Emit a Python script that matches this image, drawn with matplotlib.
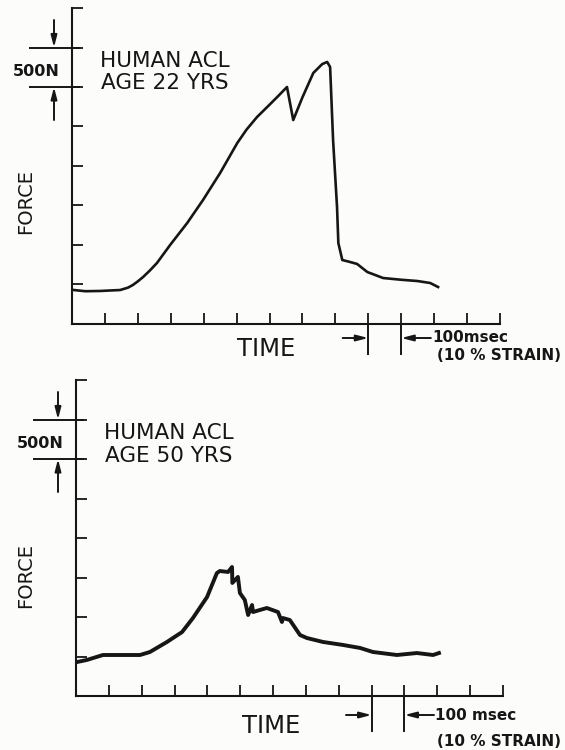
import matplotlib
matplotlib.use("Agg")
import matplotlib.pyplot as plt

# ---- data (time in msec, force in N) ----
top_t = [6, 40, 85, 120, 146, 170, 185, 200, 216, 236, 258, 298, 350, 398, 450, 502, 530, 562,
         593, 625, 653, 672, 700, 733, 760, 775, 784, 793, 805, 809, 821, 840, 866, 897, 945,
         1000, 1049, 1088, 1112]
top_f = [430, 415, 418, 425, 430, 460, 494, 540, 595, 675, 772, 1000, 1279, 1570, 1912, 2291,
         2460, 2620, 2747, 2880, 3000, 2582, 2870, 3178, 3290, 3317, 3253, 2329, 1481, 1025,
         810, 790, 760, 658, 582, 560, 544, 519, 468]

bot_t = [3, 33, 82, 195, 225, 277, 323, 356, 399, 429, 438, 463, 475, 476, 493, 499,
         514, 524, 536, 539, 560, 581, 615, 627, 630, 651, 682, 703, 752, 813, 865,
         904, 977, 1038, 1087, 1105]
bot_f = [430, 456, 519, 519, 557, 684, 810, 987, 1253, 1557, 1582, 1570, 1633, 1431, 1507, 1304,
         1215, 1025, 1152, 1063, 1089, 1114, 1063, 937, 987, 962, 772, 734, 684, 646, 608,
         557, 519, 544, 519, 544]

panel_titles = [["HUMAN ACL", "AGE 22 YRS"], ["HUMAN ACL", "AGE 50 YRS"]]
force_ticks = [500, 1000, 1500, 2000, 2500, 3000, 3500, 4000]
time_ticks = [100, 200, 300, 400, 500, 600, 700, 800, 900, 1000, 1100, 1200, 1300]
scale_force = [3000, 3500]   # 500 N marker
scale_time = [900, 1000]     # 100 msec marker

INK = "#161616"
BG = "#fcfcfa"
W, H = 565, 750

fig = plt.figure(figsize=(W / 100, H / 100), dpi=100, facecolor=BG)
plt.rcParams["font.family"] = ["DejaVu Sans"]


def fx(px):
    return px / W


def fy(py):
    return 1 - py / H


ARROW = dict(arrowstyle="-|>,head_length=0.7,head_width=0.18", color=INK, lw=1.4,
             shrinkA=0, shrinkB=0)


def panel(left, right, top, bottom, t, f, lw, tp):
    ax = fig.add_axes([fx(left), fy(bottom), fx(right - left), (bottom - top) / H])
    ax.set_facecolor(BG)
    ax.plot(t, f, color=INK, lw=lw, solid_joinstyle="round")
    ax.set_xlim(0, 1300)
    ax.set_ylim(0, 4000)
    for s in ["top", "right"]:
        ax.spines[s].set_visible(False)
    for s in ["left", "bottom"]:
        ax.spines[s].set_linewidth(1.5)
        ax.spines[s].set_color(INK)
    ax.set_xticks(time_ticks)
    ax.set_yticks(force_ticks)
    ax.set_xticklabels([])
    ax.set_yticklabels([])
    ax.tick_params(direction="in", length=8, width=1.3, color=INK)
    axw = right - left
    axh = bottom - top
    ytr = ax.get_yaxis_transform()
    xtr = ax.get_xaxis_transform()
    # 500 N scale lines
    for v in scale_force:
        ax.plot([-43 / axw, 8 / axw], [v, v], transform=ytr, color=INK, lw=1.4,
                clip_on=False, solid_capstyle="butt")
    ax_x = -18 / axw
    ax.annotate("", xy=(ax_x, scale_force[1]), xytext=(ax_x, 3848), xycoords=ytr,
                textcoords=ytr, arrowprops=ARROW)
    ax.annotate("", xy=(ax_x, scale_force[0]), xytext=(ax_x, 2582), xycoords=ytr,
                textcoords=ytr, arrowprops=ARROW)
    # 100 msec scale lines
    down = tp["down"] / axh
    for v in scale_time:
        ax.plot([v, v], [0, -down], transform=xtr, color=INK, lw=1.4, clip_on=False,
                solid_capstyle="butt")
    ay = -tp["arrow"] / axh
    ax.annotate("", xy=(scale_time[0], ay), xytext=(822, ay), xycoords=xtr, textcoords=xtr,
                arrowprops=ARROW)
    ax.annotate("", xy=(scale_time[1], ay), xytext=(1090, ay), xycoords=xtr, textcoords=xtr,
                arrowprops=ARROW)
    return ax


# top panel
panel(72, 500, 8, 324, top_t, top_f, 1.9, dict(down=31, arrow=14))
# bottom panel
panel(76, 503, 380, 696, bot_t, bot_f, 2.8, dict(down=36, arrow=19))

txt = dict(color=INK)
small = dict(color=INK, fontweight="bold")
# top texts
fig.text(fx(100), fy(67), panel_titles[0][0], fontsize=15.5, ha="left", va="baseline", **txt)
fig.text(fx(101), fy(89), panel_titles[0][1], fontsize=15.5, ha="left", va="baseline", **txt)
fig.text(fx(36), fy(71), "500N", fontsize=11.5, ha="center", va="center", **small)
fig.text(fx(26), fy(201), "FORCE", fontsize=14, rotation=90, ha="center", va="center", **txt)
fig.text(fx(266), fy(349), "TIME", fontsize=17.5, ha="center", va="center", **txt)
fig.text(fx(432), fy(337), "100msec", fontsize=11, ha="left", va="center", **small)
fig.text(fx(499), fy(356), "(10 % STRAIN)", fontsize=11, ha="center", va="center", **small)

# bottom texts
fig.text(fx(104), fy(439), panel_titles[1][0], fontsize=15.5, ha="left", va="baseline", **txt)
fig.text(fx(105), fy(462), panel_titles[1][1], fontsize=15.5, ha="left", va="baseline", **txt)
fig.text(fx(40), fy(444), "500N", fontsize=11.5, ha="center", va="center", **small)
fig.text(fx(26), fy(575), "FORCE", fontsize=14, rotation=90, ha="center", va="center", **txt)
fig.text(fx(271), fy(726), "TIME", fontsize=17.5, ha="center", va="center", **txt)
fig.text(fx(435), fy(716), "100 msec", fontsize=11, ha="left", va="center", **small)
fig.text(fx(499), fy(741), "(10 % STRAIN)", fontsize=11, ha="center", va="center", **small)

fig.savefig("out.png", dpi=100, facecolor=BG)
